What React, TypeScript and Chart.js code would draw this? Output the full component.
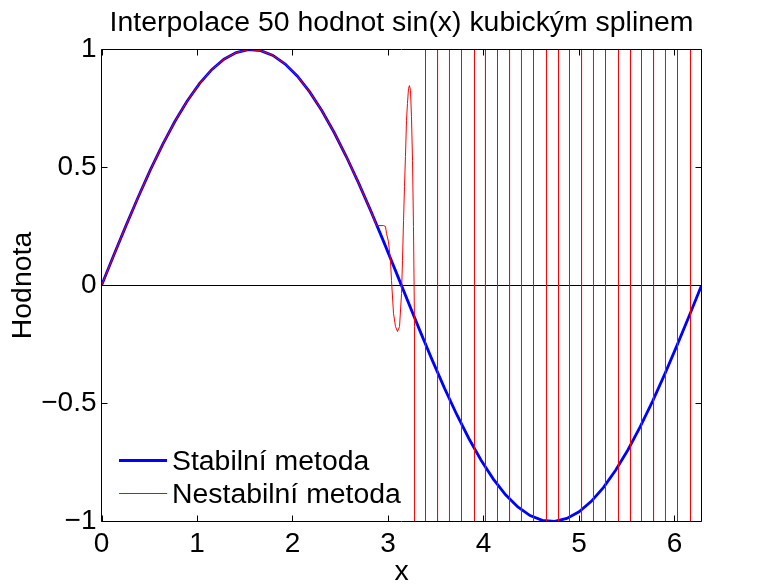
import React, { useEffect, useRef } from 'react';
import { Chart, registerables } from 'chart.js';

Chart.register(...registerables);

const TITLE = 'Interpolace 50 hodnot sin(x) kubickým splinem';
const X_LABEL = 'x';
const Y_LABEL = 'Hodnota';
const SERIES_NAMES = ['Stabilní metoda', 'Nestabilní metoda'];

const X_MIN = 0;
const X_MAX = 6.283185;
const Y_MIN = -1;
const Y_MAX = 1;
const X_TICKS = [0, 1, 2, 3, 4, 5, 6];
const X_TICK_LABELS = ['0', '1', '2', '3', '4', '5', '6'];
const Y_TICKS = [-1, -0.5, 0, 0.5, 1];
const Y_TICK_LABELS = ['\u22121', '\u22120.5', '0', '0.5', '1'];

// 50 interpolation nodes on [0, 2π]
const NODE_X = [
  0, 0.1282, 0.2565, 0.3847, 0.5129, 0.6411, 0.7694, 0.8976, 1.0258, 1.1541,
  1.2823, 1.4105, 1.5387, 1.667, 1.7952, 1.9234, 2.0517, 2.1799, 2.3081, 2.4363,
  2.5646, 2.6928, 2.821, 2.9493, 3.0775, 3.2057, 3.3339, 3.4622, 3.5904, 3.7186,
  3.8468, 3.9751, 4.1033, 4.2315, 4.3598, 4.488, 4.6162, 4.7444, 4.8727, 5.0009,
  5.1291, 5.2574, 5.3856, 5.5138, 5.642, 5.7703, 5.8985, 6.0267, 6.155, 6.2832,
];
// stable method (blue)
const STABLE_Y = [
  0, 0.1279, 0.2537, 0.3753, 0.4907, 0.5981, 0.6957, 0.7818, 0.8551, 0.9144,
  0.9587, 0.9872, 0.9995, 0.9954, 0.9749, 0.9385, 0.8866, 0.8202, 0.7403, 0.6482,
  0.5455, 0.4339, 0.3151, 0.1912, 0.0641, -0.0641, -0.1912, -0.3151, -0.4339, -0.5455,
  -0.6482, -0.7403, -0.8202, -0.8866, -0.9385, -0.9749, -0.9954, -0.9995, -0.9872, -0.9587,
  -0.9144, -0.8551, -0.7818, -0.6957, -0.5981, -0.4907, -0.3753, -0.2537, -0.1279, 0,
];

// unstable method (red): first nodes coincide with the stable curve
const RED_SHARED_NODES = 23;
const RED_BUMP_X = [
  2.88, 2.953, 2.974, 2.985, 3.005, 3.026, 3.037, 3.058, 3.079, 3.1, 3.121, 3.142,
  3.152, 3.163, 3.173, 3.183, 3.194, 3.204, 3.215, 3.225, 3.236, 3.246, 3.257, 3.267,
  3.278, 3.288,
];
const RED_BUMP_Y = [
  0.254, 0.254, 0.25, 0.22, 0.186, 0.106, 0.021, -0.119, -0.174, -0.195, -0.174, -0.034,
  0.106, 0.275, 0.419, 0.547, 0.699, 0.771, 0.835, 0.847, 0.826, 0.716, 0.53, 0.25,
  -0.174, -50,
];
// positions of the off-scale oscillations
const RED_SPIKE_X = [
  3.393, 3.519, 3.644, 3.77, 3.906, 4.021, 4.147, 4.273, 4.398, 4.524, 4.66, 4.786,
  4.901, 5.027, 5.152, 5.278, 5.414, 5.54, 5.655, 5.781, 5.906, 6.032, 6.168,
];
const RED_SPIKE_AMPLITUDE = 50;

// zero reference line
const ZERO_X = [0, 6.283185];
const ZERO_Y = [0, 0];

const FONT_FAMILY = "'Liberation Sans', Arial, Helvetica, sans-serif";
const FONT_SIZE = 28;
const TEXT_SIZE = 28.4;
const BLUE = '#0000ff';
const RED = '#ff0000';
const BLUE_WIDTH = 2.8;

const decorPlugin = {
  id: 'decor',
  afterDraw(chart: any) {
    const { ctx, chartArea: a, scales } = chart;
    const xs = scales.x;
    const ys = scales.y;
    ctx.save();
    ctx.strokeStyle = '#000';
    ctx.lineWidth = 1;
    // box
    ctx.beginPath();
    ctx.rect(a.left, a.top, a.right - a.left, a.bottom - a.top);
    ctx.stroke();
    // inward ticks on all sides
    const TL = 6;
    ctx.beginPath();
    for (const v of X_TICKS) {
      const px = Math.round(xs.getPixelForValue(v)) + 0.5;
      ctx.moveTo(px, a.bottom);
      ctx.lineTo(px, a.bottom - TL);
      ctx.moveTo(px, a.top);
      ctx.lineTo(px, a.top + TL);
    }
    for (const v of Y_TICKS) {
      const py = ys.getPixelForValue(v);
      ctx.moveTo(a.left, py);
      ctx.lineTo(a.left + TL, py);
      ctx.moveTo(a.right, py);
      ctx.lineTo(a.right - TL, py);
    }
    ctx.stroke();

    ctx.fillStyle = '#000';
    ctx.font = `${TEXT_SIZE}px ${FONT_FAMILY}`;
    ctx.textBaseline = 'alphabetic';
    // title
    ctx.textAlign = 'center';
    ctx.fillText(TITLE, (a.left + a.right) / 2, 31);
    // x label
    ctx.fillText(X_LABEL, (a.left + a.right) / 2, 580);
    // y label
    ctx.save();
    ctx.translate(31, (a.top + a.bottom) / 2);
    ctx.rotate(-Math.PI / 2);
    ctx.fillText(Y_LABEL, 0, 0);
    ctx.restore();

    // legend
    const lx0 = 119;
    const lx1 = 167;
    const rows = [
      { y: 460.5, color: BLUE, width: BLUE_WIDTH, base: 469.5 },
      { y: 493.5, color: RED, width: 1, base: 503 },
    ];
    rows.forEach((r, i) => {
      ctx.beginPath();
      ctx.strokeStyle = r.color;
      ctx.lineWidth = r.width;
      ctx.moveTo(lx0, r.y);
      ctx.lineTo(lx1, r.y);
      ctx.stroke();
      ctx.textAlign = 'left';
      ctx.fillStyle = '#000';
      ctx.fillText(SERIES_NAMES[i], 172, r.base);
    });
    ctx.restore();
  },
};

export default function App() {
  const ref = useRef<HTMLCanvasElement>(null);
  useEffect(() => {
    document.body.style.margin = '0';
    const stable = NODE_X.map((x, i) => ({ x, y: STABLE_Y[i] }));
    const red = [
      ...NODE_X.slice(0, RED_SHARED_NODES).map((x, i) => ({ x, y: STABLE_Y[i] })),
      ...RED_BUMP_X.map((x, i) => ({ x, y: RED_BUMP_Y[i] })),
      ...RED_SPIKE_X.flatMap((x, i) =>
        i % 2 === 0
          ? [{ x, y: -RED_SPIKE_AMPLITUDE }, { x, y: RED_SPIKE_AMPLITUDE }]
          : [{ x, y: RED_SPIKE_AMPLITUDE }, { x, y: -RED_SPIKE_AMPLITUDE }]
      ),
    ];
    const zero = ZERO_X.map((x, i) => ({ x, y: ZERO_Y[i] }));
    const font = { family: FONT_FAMILY, size: FONT_SIZE };
    const chart = new Chart(ref.current as HTMLCanvasElement, {
      type: 'line',
      data: {
        datasets: [
          { label: 'zero', data: zero, borderColor: '#000', borderWidth: 1, order: 2 },
          { label: SERIES_NAMES[0], data: stable, borderColor: BLUE, borderWidth: BLUE_WIDTH, order: 1 },
          { label: SERIES_NAMES[1], data: red, borderColor: RED, borderWidth: 1, order: 0 },
        ],
      },
      options: {
        responsive: false,
        animation: false,
        events: [],
        layout: { padding: { top: 49.5, left: 0, right: 73.5, bottom: 0 } },
        elements: { point: { radius: 0 }, line: { tension: 0, fill: false } },
        plugins: {
          legend: { display: false },
          title: { display: false },
          tooltip: { enabled: false },
        },
        scales: {
          x: {
            type: 'linear',
            min: X_MIN,
            max: X_MAX,
            afterBuildTicks: (s: any) => {
              s.ticks = X_TICKS.map((v) => ({ value: v }));
            },
            afterFit: (s: any) => {
              s.height = 66.5;
            },
            grid: { display: false, drawTicks: false },
            border: { display: false },
            ticks: {
              padding: 6,
              font,
              color: '#000',
              maxRotation: 0,
              autoSkip: false,
              callback: (_v: any, i: number) => X_TICK_LABELS[i],
            },
          },
          y: {
            type: 'linear',
            min: Y_MIN,
            max: Y_MAX,
            afterBuildTicks: (s: any) => {
              s.ticks = Y_TICKS.map((v) => ({ value: v }));
            },
            afterFit: (s: any) => {
              s.width = 101.5;
            },
            grid: { display: false, drawTicks: false },
            border: { display: false },
            ticks: {
              padding: 5,
              font,
              color: '#000',
              autoSkip: false,
              callback: (_v: any, i: number) => Y_TICK_LABELS[i],
            },
          },
        },
      } as any,
      plugins: [decorPlugin],
    });
    return () => chart.destroy();
  }, []);
  return <canvas ref={ref} width={775} height={588} style={{ display: 'block' }} />;
}
